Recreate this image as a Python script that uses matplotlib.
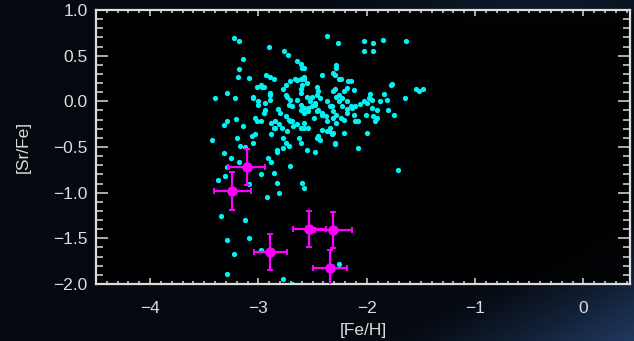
import numpy as np
import matplotlib
matplotlib.use('Agg')
import matplotlib.pyplot as plt
from matplotlib.ticker import MultipleLocator

# field stars (cyan)
feh_field = [-3.23, -3.18, -2.37, -2.27, -2.03, -1.94, -1.85, -2.03, -1.94, -1.64,
             -2.90, -2.76, -2.73, -3.14, -2.64, -2.61, -2.58, -2.28, -3.18, -3.19,
             -3.09, -2.93, -2.89, -2.86, -2.41, -2.31, -2.24, -2.15, -1.77, -2.98,
             -2.95, -2.75, -2.71, -2.64, -2.58, -2.55, -2.46, -2.45, -2.29, -2.21,
             -2.12, -1.97, -1.84, -3.40, -3.29, -3.22, -3.05, -2.89, -2.89, -2.74,
             -2.71, -2.69, -2.61, -2.55, -2.52, -2.43, -2.48, -2.37, -2.32, -2.28,
             -2.26, -2.23, -2.18, -2.14, -2.11, -2.03, -2.00, -1.95, -1.88, -1.81,
             -1.80, -1.75, -3.00, -2.94, -2.94, -2.82, -2.80, -2.75, -2.72, -2.69,
             -2.61, -2.58, -2.54, -2.51, -2.45, -2.41, -2.38, -2.37, -2.31, -2.28,
             -2.24, -2.18, -2.12, -2.01, -1.94, -1.92, -2.11, -3.29, -3.32, -3.21,
             -3.03, -2.98, -3.14, -2.88, -2.85, -2.88, -2.78, -2.74, -2.64, -2.61,
             -2.58, -2.41, -2.37, -2.34, -2.31, -2.21, -2.00, -3.43, -3.20, -3.06,
             -3.05, -2.77, -2.75, -2.77, -2.72, -2.63, -2.45, -2.43, -2.29, -2.08,
             -2.55, -2.48, -2.83, -3.17, -3.12, -3.32, -3.25, -3.18, -2.91, -2.88,
             -2.71, -1.71, -3.29, -3.31, -3.37, -2.98, -2.86, -2.83, -2.81, -2.60,
             -2.58, -2.92, -3.09, -3.35, -3.12, -3.29, -3.09, -3.23, -2.98, -3.29,
             -2.77, -2.69, -2.26, -1.55, -1.52, -1.48, -1.65, -1.98, -1.91, -2.08,
             -2.46, -1.91, -1.95, -2.31, -2.28, -2.21,
             -3.01, -2.97, -2.89, -2.66, -2.61, -2.58, -2.60, -2.61, -2.77, -2.75,
             -2.72, -2.64, -2.61, -2.58, -2.54, -2.51, -2.46, -2.48, -2.29, -2.26,
             -2.17, -2.31, -2.26, -2.23, -2.18, -2.15, -2.34, -2.46, -2.41, -2.49,
             -2.85, -2.81, -2.86, -2.71, -2.68, -2.58, -2.54, -2.95, -3.01, -3.05,
             -3.00, -2.35, -2.32, -2.61, -2.83, -3.03, -2.29, -2.28, -2.60, -1.78,
             -2.06, -2.18]
srfe_field = [0.69, 0.66, 0.71, 0.64, 0.66, 0.64, 0.67, 0.55, 0.55, 0.66,
              0.60, 0.55, 0.51, 0.46, 0.44, 0.41, 0.36, 0.40, 0.35, 0.27,
              0.26, 0.29, 0.27, 0.25, 0.29, 0.31, 0.24, 0.22, 0.19, 0.18,
              0.16, 0.18, 0.22, 0.23, 0.24, 0.20, 0.16, 0.11, 0.13, 0.11,
              0.12, 0.08, 0.08, 0.04, 0.09, 0.04, 0.04, 0.09, 0.01, 0.05,
              0.02, -0.05, 0.09, 0.05, 0.00, 0.04, -0.04, 0.00, -0.05, 0.05,
              0.00, -0.05, -0.08, -0.07, -0.05, 0.00, -0.02, 0.02, 0.00, 0.01,
              -0.09, -0.15, 0.00, -0.02, -0.09, -0.08, -0.13, -0.16, -0.20, -0.22,
              -0.10, -0.13, -0.07, -0.05, -0.09, -0.13, -0.16, -0.22, -0.11, -0.15,
              -0.18, -0.13, -0.15, -0.15, -0.16, -0.22, -0.22, -0.22, -0.26, -0.19,
              -0.18, -0.22, -0.27, -0.24, -0.29, -0.36, -0.29, -0.33, -0.25, -0.29,
              -0.29, -0.31, -0.33, -0.29, -0.35, -0.35, -0.35, -0.42, -0.40, -0.38,
              -0.46, -0.40, -0.46, -0.51, -0.49, -0.40, -0.38, -0.42, -0.47, -0.51,
              -0.53, -0.55, -0.55, -0.49, -0.50, -0.57, -0.62, -0.66, -0.62, -0.66,
              -0.71, -0.75, -0.72, -0.82, -0.86, -0.80, -0.78, -0.89, -1.00, -0.89,
              -0.95, -1.05, -0.91, -1.25, -1.30, -1.52, -1.50, -1.67, -1.63, -1.89,
              -1.94, -2.00, -1.78, 0.13, 0.11, 0.14, 0.04, 0.04, -0.18, -0.22,
              -0.40, -0.09, -0.07, -0.18, -0.24, -0.20,
              0.16, 0.16, 0.07, 0.24, 0.25, 0.27, 0.18, 0.13, 0.13, 0.07,
              -0.04, 0.02, -0.04, -0.07, -0.11, 0.05, 0.07, -0.02, 0.29, 0.24,
              0.22, 0.11, 0.07, 0.04, 0.00, -0.05, -0.05, -0.11, -0.15, -0.18,
              -0.22, -0.25, -0.29, -0.22, -0.27, -0.24, -0.29, -0.13, -0.22, 0.05,
              -0.04, -0.33, -0.36, -0.46, -0.53, -0.36, -0.46, 0.36, 0.36, 0.18,
              -0.03, 0.15]

# programme stars (magenta, with errors)
feh_stars = [-3.11, -3.24, -2.89, -2.53, -2.31, -2.34]
srfe_stars = [-0.72, -0.98, -1.65, -1.40, -1.41, -1.83]
feh_err = [0.17, 0.17, 0.15, 0.15, 0.17, 0.16]
srfe_err = [0.20, 0.21, 0.20, 0.20, 0.20, 0.20]

W, H = 634, 341
fig = plt.figure(figsize=(W / 100, H / 100), dpi=100)

# dark slide background with a blue glow in the lower right
gx, gy = np.meshgrid(np.linspace(0, 1, W), np.linspace(0, 1, H))
base = np.array([0.02, 0.035, 0.06])
glow = np.clip((gx - 0.78) * 2.5 + (gy - 0.8) * 2.5, 0, 1) ** 1.3
top = np.exp(-((gx - 0.85) ** 2 / 0.06 + gy ** 2 / 0.004))
img = (base[None, None, :]
       + glow[..., None] * np.array([0.10, 0.18, 0.30])
       + top[..., None] * np.array([0.03, 0.06, 0.10]))
bg = fig.add_axes([0, 0, 1, 1], zorder=0)
bg.imshow(np.clip(img, 0, 1), aspect='auto', extent=[0, 1, 0, 1])
bg.axis('off')

fg = '#dcdcdc'
ax = fig.add_axes([96 / W, 1 - 284 / H, 534 / W, 274 / H], zorder=1)
ax.set_facecolor((0, 0, 0, 0.85))

ax.plot(feh_field, srfe_field, 'o', color='#00f2f2', markersize=3.8,
        markeredgewidth=0, zorder=2)
ax.errorbar(feh_stars, srfe_stars, xerr=feh_err, yerr=srfe_err, fmt='o',
            color='#ff00ff', markersize=6.5, elinewidth=1.6, capsize=2.2,
            capthick=1.4, zorder=3)

ax.set_xlim(-4.5, 0.43)
ax.set_ylim(-2.0, 1.0)
ax.set_xticks([-4, -3, -2, -1, 0])
ax.set_yticks([-2.0, -1.5, -1.0, -0.5, 0.0, 0.5, 1.0])
ax.set_yticklabels(['\u22122.0', '\u22121.5', '\u22121.0', '\u22120.5', '0.0', '0.5', '1.0'])
ax.xaxis.set_minor_locator(MultipleLocator(0.1))
ax.yaxis.set_minor_locator(MultipleLocator(0.1))

font = 'Liberation Sans'
ax.tick_params(axis='both', which='both', direction='in', top=True, right=True,
               colors=fg, width=1.1)
ax.tick_params(axis='x', which='major', length=4, pad=12, labelsize=12.5)
ax.tick_params(axis='x', which='minor', length=2.2)
ax.tick_params(axis='y', which='major', length=8.5, pad=6, labelsize=12.5)
ax.tick_params(axis='y', which='minor', length=5)
for lab in ax.get_xticklabels() + ax.get_yticklabels():
    lab.set_family(font)

for sp in ax.spines.values():
    sp.set_color(fg)
    sp.set_linewidth(1.6)

ax.set_xlabel('[Fe/H]', color=fg, fontsize=12.5, family=font, labelpad=5)
ax.set_ylabel('[Sr/Fe]', color=fg, fontsize=12.5, family=font, labelpad=16)

fig.savefig('out.png', dpi=100)
